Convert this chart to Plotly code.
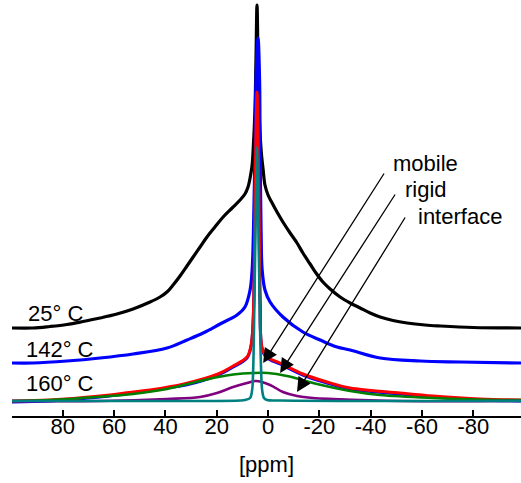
import plotly.graph_objects as go

# ---- data (ppm, intensity) ----
ppm_25 = [99.8, 91.6, 85.0, 78.4, 72.1, 65.5, 58.9, 52.6, 46.0, 42.1, 39.4, 37.0, 34.3, 31.6, 29.2, 26.5, 23.8,
          20.7, 17.5, 14.0, 10.9, 9.0, 7.8, 7.0, 6.2, 5.8, 5.1, 4.7, 4.3,
          3.9, 3.5, 2.7, 1.9, 1.2, 0.0, -1.6, -3.5, -5.8, -8.6, -11.3, -13.6, -16.4, -18.7, -21.4, -24.2,
          -28.1, -32.0, -35.9, -39.8, -43.7, -48.7, -54.2, -61.2, -67.1, -79.9, -98.6]
int_25 = [88, 88, 89.5, 91.5, 94.5, 98, 102, 107, 114, 119, 124, 131, 140, 150, 159, 169, 179,
          189, 199, 208, 216, 222, 229, 238, 251, 266, 306, 356, 411,
          356, 306, 266, 246, 231, 221, 213, 204, 194, 183, 173, 163, 152, 143, 134, 127,
          119, 113, 108, 103, 99, 95.5, 93, 91, 90, 88.5, 88]

ppm_142 = [99.8, 91.6, 78.4, 65.5, 52.6, 39.4, 31.6, 25.3, 18.7, 12.1, 9.0, 7.0, 6.2, 5.7, 5.1, 4.7, 3.9,
           3.3, 3.1, 2.7, 2.3, 1.2, -0.8, -5.8, -13.6, -20.3, -26.9, -32.0, -43.7, -59.3, -74.9, -98.6]
int_142 = [53, 53, 55, 58, 62, 68, 76, 83, 92, 101, 109, 126, 146, 183, 266, 336, 378,
           336, 266, 183, 146, 126, 114, 99, 84, 76, 69, 66, 58, 55, 54, 53]

ppm_160 = [99.8, 85.0, 65.5, 52.6, 39.4, 32.0, 19.5, 13.6, 8.2, 6.6, 5.8, 5.1, 4.7, 4.3,
           3.9, 3.5, 3.1, 2.3, 0.4, -4.7, -13.6, -23.0, -32.0, -51.5, -64.3, -82.7, -98.6]
int_160 = [14, 15, 19, 23, 28, 31, 41, 49, 58, 70, 95, 215, 285, 322,
           285, 215, 115, 67, 58, 52, 41, 33, 27, 22, 19, 16, 15]

ppm_fit = [99.8, 85.0, 65.5, 52.6, 46.0, 32.8, 19.5, 13.6, 8.2, 6.6, 5.8, 5.1, 4.7, 4.3,
           3.9, 3.5, 3.1, 2.3, 0.4, -4.7, -13.6, -23.0, -32.0, -51.5, -64.3, -82.7, -98.6]
int_fit = [15, 16, 20, 24, 26, 32, 42, 50, 59, 71, 96, 216, 286, 324,
           286, 216, 116, 68, 59, 53, 42, 34, 28, 23, 20, 17, 16]

ppm_green = [99.8, 85.0, 66.7, 52.6, 39.4, 26.5, 19.5, 13.6, 5.8, 0.0, -7.4, -17.5, -32.0, -43.7, -64.3, -90.4, -98.6]
int_green = [15, 16, 19, 22, 27, 35, 39, 41.5, 43, 43, 40, 33, 25, 21, 18, 16, 16]

ppm_purple = [99.8, 65.5, 39.4, 26.5, 19.9, 13.6, 8.2, 4.7, -0.8, -5.8, -11.3, -17.5, -25.3, -51.5, -98.6]
int_purple = [15, 15, 17, 19, 23, 29, 33, 35, 31, 24, 20, 18, 17, 15, 15]

ppm_teal = [99.8, 26.5, 10.9, 9.0, 7.0, 6.2, 5.8, 5.3, 4.7, 4.3, 3.9, 3.3, 2.7, 2.3, 1.6, 0.4, -4.7, -98.6]
int_teal = [15, 15, 15.5, 16, 18, 26, 46, 116, 216, 269, 216, 116, 46, 26, 18, 16, 15.5, 15]

tick_vals = [100, 80, 60, 40, 20, 0, -20, -40, -60, -80]
tick_text = ["", "80", "60", "40", "20", "0", "-20", "-40", "-60", "-80"]

FONT = "Liberation Sans, Arial, sans-serif"
FS = 22

fig = go.Figure()
series = [
    (ppm_25, int_25, "#000000", 3.2),
    (ppm_142, int_142, "#0000FF", 3.2),
    (ppm_160, int_160, "#0000FF", 3.0),
    (ppm_fit, int_fit, "#FF0000", 3.0),
    (ppm_green, int_green, "#008000", 2.6),
    (ppm_purple, int_purple, "#800080", 2.6),
    (ppm_teal, int_teal, "#008080", 2.6),
]
for xs, ys, col, w in series:
    fig.add_trace(go.Scatter(x=xs, y=ys, mode="lines",
                             line=dict(color=col, width=w, shape="spline", smoothing=1.0),
                             showlegend=False, hoverinfo="skip"))

# temperature labels
for txt, x, y in [("25° C", 94.5, 103), ("142° C", 95.2, 67), ("160° C", 95.2, 33)]:
    fig.add_annotation(x=x, y=y, text=txt, showarrow=False, xanchor="left", yanchor="middle",
                       font=dict(family=FONT, size=FS, color="black"))

# component labels
for txt, x, y in [("mobile", -61.4, 253), ("rigid", -61.6, 227), ("interface", -75.0, 200)]:
    fig.add_annotation(x=x, y=y, text=txt, showarrow=False, xanchor="center", yanchor="middle",
                       font=dict(family=FONT, size=FS, color="black"))

# arrows
for (tx, ty, hx, hy) in [(-45.6, 244, 1.9, 53), (-49.9, 223, -4.7, 43), (-53.8, 200, -11.3, 24)]:
    fig.add_annotation(x=hx, y=hy, ax=tx, ay=ty, axref="x", ayref="y", xref="x", yref="y",
                       text="", showarrow=True, arrowhead=2, arrowsize=2.2, arrowwidth=1.3,
                       arrowcolor="black", standoff=0, startstandoff=0)

fig.update_layout(
    width=521, height=483,
    margin=dict(l=12, r=0, t=0, b=67),
    paper_bgcolor="white", plot_bgcolor="white",
    font=dict(family=FONT, size=FS, color="black"),
    xaxis=dict(range=[99.8, -98.6], tickvals=tick_vals, ticktext=tick_text,
               ticks="inside", ticklen=6, tickwidth=2, tickcolor="black",
               showline=True, linewidth=2, linecolor="black", showgrid=False, zeroline=False,
               ticklabelstandoff=-10,
               tickfont=dict(family=FONT, size=FS, color="black"),
               title=dict(text="[ppm]", font=dict(family=FONT, size=FS, color="black"), standoff=18)),
    yaxis=dict(range=[0, 416], visible=False, showgrid=False, zeroline=False),
)

fig.write_html("out.html")
